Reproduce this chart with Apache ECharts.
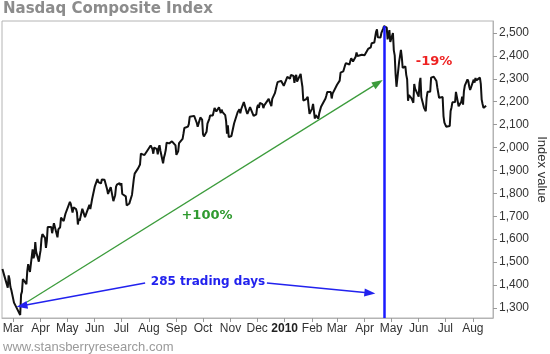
<!DOCTYPE html>
<html>
<head>
<meta charset="utf-8">
<script src="https://cdn.jsdelivr.net/npm/echarts@6/dist/echarts.min.js"></script>
<style>
  html, body { margin: 0; padding: 0; background: #fff; }
  #chart { width: 550px; height: 354px; }
</style>
</head>
<body>
<div id="chart"></div>
<script>
// Nasdaq closes, Feb 2009 - Aug 2010
var nasdaq2009 = [
  ['2009-02-17', 1470], ['2009-02-19', 1442], ['2009-02-20', 1441], ['2009-02-23', 1388], ['2009-02-24', 1442],
  ['2009-02-25', 1425], ['2009-02-26', 1391], ['2009-02-27', 1378],
  ['2009-03-02', 1323], ['2009-03-03', 1321], ['2009-03-05', 1300], ['2009-03-06', 1293], ['2009-03-09', 1269],
  ['2009-03-10', 1358], ['2009-03-11', 1371], ['2009-03-12', 1426], ['2009-03-13', 1432], ['2009-03-16', 1404],
  ['2009-03-17', 1462], ['2009-03-18', 1491], ['2009-03-19', 1483], ['2009-03-20', 1457], ['2009-03-23', 1556],
  ['2009-03-24', 1517], ['2009-03-25', 1529], ['2009-03-26', 1587], ['2009-03-27', 1545], ['2009-03-30', 1502],
  ['2009-03-31', 1529],
  ['2009-04-01', 1552], ['2009-04-02', 1602], ['2009-04-03', 1622], ['2009-04-06', 1606], ['2009-04-07', 1562],
  ['2009-04-08', 1591], ['2009-04-09', 1653], ['2009-04-13', 1653], ['2009-04-14', 1626], ['2009-04-15', 1627],
  ['2009-04-16', 1670], ['2009-04-17', 1673], ['2009-04-20', 1608], ['2009-04-21', 1643], ['2009-04-22', 1646],
  ['2009-04-23', 1652], ['2009-04-24', 1694], ['2009-04-27', 1679], ['2009-04-28', 1674], ['2009-04-29', 1711],
  ['2009-04-30', 1717],
  ['2009-05-01', 1719], ['2009-05-04', 1763], ['2009-05-05', 1754], ['2009-05-06', 1759], ['2009-05-07', 1716],
  ['2009-05-08', 1739], ['2009-05-11', 1731], ['2009-05-12', 1716], ['2009-05-13', 1664], ['2009-05-14', 1690],
  ['2009-05-15', 1680], ['2009-05-18', 1733], ['2009-05-19', 1734], ['2009-05-20', 1727], ['2009-05-21', 1696],
  ['2009-05-22', 1692], ['2009-05-26', 1750], ['2009-05-27', 1731], ['2009-05-28', 1752], ['2009-05-29', 1774],
  ['2009-06-01', 1829], ['2009-06-02', 1836], ['2009-06-03', 1825], ['2009-06-04', 1862], ['2009-06-05', 1849],
  ['2009-06-08', 1843], ['2009-06-09', 1860], ['2009-06-10', 1853], ['2009-06-11', 1862], ['2009-06-12', 1859],
  ['2009-06-15', 1817], ['2009-06-16', 1797], ['2009-06-17', 1808], ['2009-06-18', 1807], ['2009-06-19', 1827],
  ['2009-06-22', 1766], ['2009-06-23', 1764], ['2009-06-24', 1792], ['2009-06-25', 1829], ['2009-06-26', 1838],
  ['2009-06-29', 1845], ['2009-06-30', 1835],
  ['2009-07-01', 1845], ['2009-07-02', 1797], ['2009-07-06', 1787], ['2009-07-07', 1747], ['2009-07-08', 1747],
  ['2009-07-09', 1752], ['2009-07-10', 1756], ['2009-07-13', 1794], ['2009-07-14', 1799], ['2009-07-15', 1862],
  ['2009-07-16', 1886], ['2009-07-17', 1887], ['2009-07-20', 1910], ['2009-07-21', 1917], ['2009-07-22', 1926],
  ['2009-07-23', 1973], ['2009-07-24', 1966], ['2009-07-27', 1967], ['2009-07-28', 1975], ['2009-07-29', 1968],
  ['2009-07-30', 1985], ['2009-07-31', 1979],
  ['2009-08-03', 2009], ['2009-08-04', 2011], ['2009-08-05', 1993], ['2009-08-06', 1973], ['2009-08-07', 2000],
  ['2009-08-10', 1993], ['2009-08-11', 1970], ['2009-08-12', 1999], ['2009-08-13', 2010], ['2009-08-14', 1986],
  ['2009-08-17', 1931], ['2009-08-18', 1956], ['2009-08-19', 1970], ['2009-08-20', 1989], ['2009-08-21', 2021],
  ['2009-08-24', 2018], ['2009-08-25', 2025], ['2009-08-26', 2025], ['2009-08-27', 2027], ['2009-08-28', 2028],
  ['2009-08-31', 2009],
  ['2009-09-01', 1968], ['2009-09-02', 1967], ['2009-09-03', 1983], ['2009-09-04', 2019], ['2009-09-08', 2038],
  ['2009-09-09', 2061], ['2009-09-10', 2085], ['2009-09-11', 2080], ['2009-09-14', 2091], ['2009-09-15', 2102],
  ['2009-09-16', 2134], ['2009-09-17', 2126], ['2009-09-18', 2132], ['2009-09-21', 2138], ['2009-09-22', 2146],
  ['2009-09-23', 2132], ['2009-09-24', 2107], ['2009-09-25', 2091], ['2009-09-28', 2131], ['2009-09-29', 2125],
  ['2009-09-30', 2122],
  ['2009-10-01', 2058], ['2009-10-02', 2048], ['2009-10-05', 2069], ['2009-10-06', 2104], ['2009-10-07', 2103],
  ['2009-10-08', 2124], ['2009-10-09', 2140], ['2009-10-12', 2140], ['2009-10-13', 2139], ['2009-10-14', 2172],
  ['2009-10-15', 2174], ['2009-10-16', 2157], ['2009-10-19', 2176], ['2009-10-20', 2163], ['2009-10-21', 2150],
  ['2009-10-22', 2165], ['2009-10-23', 2154], ['2009-10-26', 2141], ['2009-10-27', 2116], ['2009-10-28', 2060],
  ['2009-10-29', 2097], ['2009-10-30', 2045],
  ['2009-11-02', 2050], ['2009-11-03', 2057], ['2009-11-04', 2058], ['2009-11-05', 2105], ['2009-11-06', 2112],
  ['2009-11-09', 2154], ['2009-11-10', 2152], ['2009-11-11', 2167], ['2009-11-12', 2149], ['2009-11-13', 2167],
  ['2009-11-16', 2198], ['2009-11-17', 2203], ['2009-11-18', 2194], ['2009-11-19', 2157], ['2009-11-20', 2147],
  ['2009-11-23', 2176], ['2009-11-24', 2170], ['2009-11-25', 2177], ['2009-11-27', 2138], ['2009-11-30', 2145],
  ['2009-12-01', 2175], ['2009-12-02', 2186], ['2009-12-03', 2173], ['2009-12-04', 2194], ['2009-12-07', 2189],
  ['2009-12-08', 2172], ['2009-12-09', 2184], ['2009-12-10', 2191], ['2009-12-11', 2190], ['2009-12-14', 2212],
  ['2009-12-15', 2201], ['2009-12-16', 2207], ['2009-12-17', 2180], ['2009-12-18', 2212], ['2009-12-21', 2237],
  ['2009-12-22', 2253], ['2009-12-23', 2270], ['2009-12-24', 2285], ['2009-12-28', 2291], ['2009-12-29', 2288],
  ['2009-12-30', 2291], ['2009-12-31', 2269]
];
var nasdaq2010 = [
  ['2010-01-04', 2308], ['2010-01-05', 2309], ['2010-01-06', 2301], ['2010-01-07', 2300], ['2010-01-08', 2317],
  ['2010-01-11', 2312], ['2010-01-12', 2282], ['2010-01-13', 2307], ['2010-01-14', 2317], ['2010-01-15', 2288],
  ['2010-01-19', 2321], ['2010-01-20', 2291], ['2010-01-21', 2265], ['2010-01-22', 2205], ['2010-01-25', 2210],
  ['2010-01-26', 2204], ['2010-01-27', 2221], ['2010-01-28', 2180], ['2010-01-29', 2147],
  ['2010-02-01', 2171], ['2010-02-02', 2190], ['2010-02-03', 2191], ['2010-02-04', 2126], ['2010-02-05', 2141],
  ['2010-02-08', 2126], ['2010-02-09', 2150], ['2010-02-10', 2148], ['2010-02-11', 2178], ['2010-02-12', 2183],
  ['2010-02-16', 2214], ['2010-02-17', 2227], ['2010-02-18', 2242], ['2010-02-19', 2243], ['2010-02-22', 2242],
  ['2010-02-23', 2214], ['2010-02-24', 2235], ['2010-02-25', 2234], ['2010-02-26', 2238],
  ['2010-03-01', 2274], ['2010-03-02', 2281], ['2010-03-03', 2280], ['2010-03-04', 2292], ['2010-03-05', 2327],
  ['2010-03-08', 2332], ['2010-03-09', 2340], ['2010-03-10', 2358], ['2010-03-11', 2368], ['2010-03-12', 2368],
  ['2010-03-15', 2362], ['2010-03-16', 2378], ['2010-03-17', 2389], ['2010-03-18', 2392], ['2010-03-19', 2375],
  ['2010-03-22', 2396], ['2010-03-23', 2415], ['2010-03-24', 2399], ['2010-03-25', 2398], ['2010-03-26', 2396],
  ['2010-03-29', 2405], ['2010-03-30', 2410], ['2010-03-31', 2398],
  ['2010-04-01', 2403], ['2010-04-05', 2430], ['2010-04-06', 2437], ['2010-04-07', 2431], ['2010-04-08', 2437],
  ['2010-04-09', 2455], ['2010-04-12', 2458], ['2010-04-13', 2466], ['2010-04-14', 2505], ['2010-04-15', 2515],
  ['2010-04-16', 2481], ['2010-04-19', 2480], ['2010-04-20', 2500], ['2010-04-21', 2505], ['2010-04-22', 2519],
  ['2010-04-23', 2530], ['2010-04-26', 2523], ['2010-04-27', 2472], ['2010-04-28', 2472], ['2010-04-29', 2512],
  ['2010-04-30', 2461],
  ['2010-05-03', 2499], ['2010-05-04', 2424], ['2010-05-05', 2402], ['2010-05-06', 2320], ['2010-05-07', 2265],
  ['2010-05-10', 2375], ['2010-05-11', 2376], ['2010-05-12', 2426], ['2010-05-13', 2394], ['2010-05-14', 2347],
  ['2010-05-17', 2354], ['2010-05-18', 2317], ['2010-05-19', 2298], ['2010-05-20', 2204], ['2010-05-21', 2229],
  ['2010-05-24', 2214], ['2010-05-25', 2210], ['2010-05-26', 2195], ['2010-05-27', 2277], ['2010-05-28', 2257],
  ['2010-06-01', 2222], ['2010-06-02', 2282], ['2010-06-03', 2304], ['2010-06-04', 2219], ['2010-06-07', 2173],
  ['2010-06-08', 2171], ['2010-06-09', 2158], ['2010-06-10', 2218], ['2010-06-11', 2243], ['2010-06-14', 2243],
  ['2010-06-15', 2305], ['2010-06-16', 2306], ['2010-06-17', 2307], ['2010-06-18', 2309], ['2010-06-21', 2290],
  ['2010-06-22', 2262], ['2010-06-23', 2255], ['2010-06-24', 2217], ['2010-06-25', 2224], ['2010-06-28', 2220],
  ['2010-06-29', 2136], ['2010-06-30', 2109],
  ['2010-07-01', 2101], ['2010-07-02', 2091], ['2010-07-06', 2094], ['2010-07-07', 2159], ['2010-07-08', 2175],
  ['2010-07-09', 2197], ['2010-07-12', 2198], ['2010-07-13', 2243], ['2010-07-14', 2250], ['2010-07-15', 2249],
  ['2010-07-16', 2180], ['2010-07-19', 2199], ['2010-07-20', 2222], ['2010-07-21', 2187], ['2010-07-22', 2246],
  ['2010-07-23', 2270], ['2010-07-26', 2297], ['2010-07-27', 2288], ['2010-07-28', 2265], ['2010-07-29', 2251],
  ['2010-07-30', 2255],
  ['2010-08-02', 2296], ['2010-08-03', 2283], ['2010-08-04', 2303], ['2010-08-05', 2293], ['2010-08-06', 2288],
  ['2010-08-09', 2305], ['2010-08-10', 2278], ['2010-08-11', 2209], ['2010-08-12', 2190], ['2010-08-13', 2173],
  ['2010-08-16', 2182]
];

// axis ticks
var monthTicks = ['2009-03-01', '2009-04-01', '2009-05-01', '2009-06-01', '2009-07-01', '2009-08-01',
  '2009-09-01', '2009-10-01', '2009-11-01', '2009-12-01', '2010-01-01', '2010-02-01', '2010-03-01',
  '2010-04-01', '2010-05-01', '2010-06-01', '2010-07-01', '2010-08-01'];
var monthLabels = ['Mar', 'Apr', 'May', 'Jun', 'Jul', 'Aug', 'Sep', 'Oct', 'Nov', 'Dec', '2010', 'Feb',
  'Mar', 'Apr', 'May', 'Jun', 'Jul', 'Aug'];
var yTicks = [1300, 1400, 1500, 1600, 1700, 1800, 1900, 2000, 2100, 2200, 2300, 2400, 2500];

// annotations: [date, value] anchors
var peak = ['2010-04-23', 2530];
var gainArrow = [['2009-03-16 18:00', 1326], ['2010-04-16 06:00', 2282]];
var daysArrowLeft = [['2009-07-27 18:00', 1409], ['2009-03-11', 1309]];
var daysArrowRight = [['2009-12-12', 1409], ['2010-04-07', 1365]];

// dates -> timestamps (x axis is a plain value axis in ms)
function toTime (s) {
  var p = s.split(/[- :]/);
  return new Date(+p[0], +p[1] - 1, +p[2], +(p[3] || 0), +(p[4] || 0)).getTime();
}

var seriesData = nasdaq2009.concat(nasdaq2010).map(function (d) { return [toTime(d[0]), d[1]]; });
var tickTimes = monthTicks.map(toTime);
var yMin = 1256, yMax = 2552;

function arrow (pts, color, width) {
  return [
    { coord: [toTime(pts[0][0]), pts[0][1]], symbol: 'none', lineStyle: { color: color, width: width, type: 'solid' } },
    { coord: [toTime(pts[1][0]), pts[1][1]], symbol: 'triangle', symbolSize: [8, 11] }
  ];
}

const myChart = echarts.init(document.getElementById('chart'));
const option = {
  animation: false,
  backgroundColor: '#fff',
  textStyle: { fontFamily: '"Liberation Sans", Arial, sans-serif' },
  grid: {
    left: 2, right: 57, top: 21, bottom: 36,
    show: true, borderColor: '#b4b4b4', borderWidth: 1,
    outerBoundsMode: 'none'
  },
  xAxis: {
    type: 'value',
    min: toTime('2009-02-16 12:00'),
    max: toTime('2010-08-23 18:00'),
    splitLine: { show: false },
    axisLine: { lineStyle: { color: '#b4b4b4', width: 1 } },
    axisTick: { customValues: tickTimes, length: 4, lineStyle: { color: '#999' } },
    axisLabel: {
      customValues: tickTimes,
      margin: 5,
      color: '#333',
      fontSize: 12,
      formatter: function (val) {
        var i = tickTimes.indexOf(val);
        if (i < 0) return '';
        return monthLabels[i] === '2010' ? '{b|2010}' : monthLabels[i];
      },
      rich: { b: { fontWeight: 'bold', color: '#222', fontSize: 12 } }
    }
  },
  yAxis: {
    type: 'value',
    position: 'right',
    min: yMin,
    max: yMax,
    splitLine: { show: false },
    axisLine: { show: true, lineStyle: { color: '#b4b4b4', width: 1 } },
    axisTick: { show: true, customValues: yTicks, length: 4, lineStyle: { color: '#999' } },
    axisLabel: {
      customValues: yTicks,
      margin: 6,
      color: '#333',
      fontSize: 12,
      formatter: function (v) { return v.toLocaleString('en-US'); }
    },
    name: 'Index value',
    nameLocation: 'middle',
    nameRotate: -90,
    nameGap: 42,
    nameMoveOverlap: false,
    nameTextStyle: { color: '#333', fontSize: 13 }
  },
  series: [{
    type: 'line',
    data: seriesData,
    showSymbol: false,
    symbol: 'none',
    lineStyle: { color: '#111', width: 2 },
    silent: true,
    markLine: {
      silent: true,
      animation: false,
      label: { show: false },
      emphasis: { disabled: true },
      data: [
        [
          { coord: [toTime(peak[0]), peak[1]], symbol: 'none', lineStyle: { color: '#1a1aff', width: 2.5, type: 'solid' } },
          { coord: [toTime(peak[0]), yMin], symbol: 'none' }
        ],
        arrow(gainArrow, '#3c9c3c', 1.3),
        arrow(daysArrowLeft, '#2222ee', 1.5),
        arrow(daysArrowRight, '#2222ee', 1.5)
      ]
    }
  }],
  graphic: [
    { type: 'text', x: 3, y: 9, style: { text: 'Nasdaq Composite Index', font: 'bold 15px "DejaVu Sans", Verdana, sans-serif', fill: '#8c8c8c', verticalAlign: 'middle' } },
    { type: 'text', x: 3, y: 347, style: { text: 'www.stansberryresearch.com', font: '13px "Liberation Sans", Arial, sans-serif', fill: '#9a9a9a', verticalAlign: 'middle' } },
    { type: 'text', x: 207, y: 216, style: { text: '+100%', font: 'bold 13px "DejaVu Sans", Verdana, sans-serif', fill: '#2f9a2f', align: 'center', verticalAlign: 'middle' } },
    { type: 'text', x: 208, y: 282, style: { text: '285 trading days', font: 'bold 12px "DejaVu Sans", Verdana, sans-serif', fill: '#2222ee', align: 'center', verticalAlign: 'middle' } },
    { type: 'text', x: 434, y: 62, style: { text: '-19%', font: 'bold 13px "DejaVu Sans", Verdana, sans-serif', fill: '#ee2222', align: 'center', verticalAlign: 'middle' } }
  ]
};
myChart.setOption(option);
window.addEventListener('resize', function () {
  myChart.resize();
});
</script>
</body>
</html>
